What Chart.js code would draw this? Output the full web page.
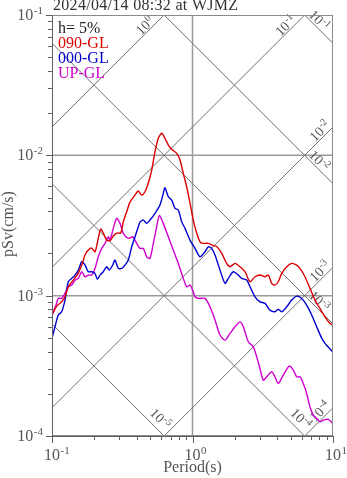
<!DOCTYPE html>
<html>
<head>
<meta charset="utf-8">
<script src="https://cdn.jsdelivr.net/npm/chart.js@4"></script>
<style>
  html, body { margin: 0; padding: 0; background: #fff; }
  canvas { display: block; }
</style>
</head>
<body>
<canvas id="c" width="347" height="478"></canvas>
<script>
// Pseudo-velocity response spectra (h = 5%), tripartite log-log grid.
const titleText = '2024/04/14 08:32 at WJMZ';
const dampingText = 'h= 5%';
const componentNames = ['090-GL', '000-GL', 'UP-GL'];
const componentColors = ['#dd0000', '#0000d0', '#d000d0'];

// Period (s) and pSv (cm/s) for each component
const periods090 = [0.1, 0.108, 0.1172, 0.1237, 0.1306, 0.1418, 0.1539, 0.1627, 0.1718, 0.1813, 0.1916, 0.2023, 0.2136, 0.2222, 0.2318, 0.2451, 0.2587, 0.2731, 0.2887, 0.3083, 0.3218, 0.3401, 0.3591, 0.3898, 0.4113, 0.4349, 0.459, 0.4846, 0.5125, 0.5409, 0.5708, 0.6034, 0.6371, 0.6726, 0.7112, 0.7718, 0.8147, 0.86, 0.9093, 0.9598, 1.013, 1.071, 1.131, 1.193, 1.296, 1.406, 1.487, 1.614, 1.752, 1.849, 2.006, 2.178, 2.363, 2.566, 2.785, 3.022, 3.281, 3.463, 3.661, 3.865, 4.079, 4.314, 4.682, 5.082, 5.514, 5.821, 6.318, 6.858, 7.443, 8.078, 8.77, 9.517, 10];
const psv090 = [7.28e-4, 8.43e-4, 9.04e-4, 9.82e-4, 1.157e-3, 1.291e-3, 1.449e-3, 1.652e-3, 1.947e-3, 2.113e-3, 2.183e-3, 2.055e-3, 2.573e-3, 2.983e-3, 2.793e-3, 2.489e-3, 2.461e-3, 2.659e-3, 2.793e-3, 2.793e-3, 3.363e-3, 3.963e-3, 4.645e-3, 5.212e-3, 5.566e-3, 5.212e-3, 5.502e-3, 6.345e-3, 7.854e-3, 1.061e-2, 1.322e-2, 1.435e-2, 1.322e-2, 1.184e-2, 1.103e-2, 1.033e-2, 9.26e-3, 7.44e-3, 5.97e-3, 4.571e-3, 3.457e-3, 2.793e-3, 2.422e-3, 2.359e-3, 2.359e-3, 2.275e-3, 2.239e-3, 2.001e-3, 1.698e-3, 1.606e-3, 1.698e-3, 1.606e-3, 1.481e-3, 1.256e-3, 1.364e-3, 1.402e-3, 1.364e-3, 1.402e-3, 1.224e-3, 1.19e-3, 1.256e-3, 1.441e-3, 1.606e-3, 1.698e-3, 1.652e-3, 1.564e-3, 1.364e-3, 1.127e-3, 9.3e-4, 8.11e-4, 7.07e-4, 6.34e-4, 6.17e-4];

const periods000 = [0.1, 0.105, 0.1109, 0.1172, 0.1237, 0.1306, 0.1381, 0.1458, 0.1539, 0.1627, 0.1718, 0.1813, 0.1916, 0.2023, 0.2101, 0.2196, 0.2318, 0.2451, 0.2557, 0.2704, 0.2808, 0.2963, 0.3133, 0.3308, 0.3492, 0.3693, 0.3898, 0.4113, 0.423, 0.4466, 0.4721, 0.4983, 0.5409, 0.5869, 0.6197, 0.6371, 0.6726, 0.7112, 0.7505, 0.7924, 0.8379, 0.8843, 0.9598, 1.042, 1.131, 1.227, 1.296, 1.369, 1.446, 1.569, 1.703, 1.798, 1.951, 2.118, 2.239, 2.431, 2.566, 2.785, 3.022, 3.281, 3.561, 3.865, 4.079, 4.314, 4.682, 5.082, 5.514, 5.985, 6.496, 7.054, 7.655, 8.307, 8.77, 10];
const psv000 = [4.98e-4, 6.0e-4, 7.28e-4, 7.68e-4, 9.3e-4, 1.256e-3, 1.328e-3, 1.402e-3, 1.522e-3, 1.744e-3, 1.652e-3, 1.481e-3, 1.481e-3, 1.441e-3, 1.313e-3, 1.402e-3, 1.481e-3, 1.606e-3, 1.522e-3, 1.652e-3, 1.793e-3, 1.564e-3, 1.564e-3, 1.652e-3, 1.793e-3, 2.231e-3, 2.628e-3, 3.097e-3, 3.346e-3, 3.457e-3, 3.275e-3, 3.457e-3, 3.859e-3, 4.42e-3, 5.36e-3, 5.875e-3, 5.07e-3, 4.8e-3, 4.19e-3, 4.074e-3, 3.363e-3, 3.018e-3, 2.489e-3, 2.173e-3, 1.893e-3, 2.055e-3, 2.231e-3, 2.173e-3, 1.947e-3, 1.522e-3, 1.224e-3, 1.328e-3, 1.481e-3, 1.402e-3, 1.328e-3, 1.291e-3, 1.157e-3, 9.82e-4, 9.04e-4, 8.81e-4, 7.89e-4, 7.68e-4, 7.98e-4, 7.68e-4, 8.33e-4, 9.3e-4, 9.93e-4, 9.56e-4, 8.57e-4, 7.28e-4, 6.0e-4, 4.98e-4, 4.57e-4, 3.96e-4];

const periodsUP = [0.1, 0.1068, 0.1109, 0.1172, 0.1237, 0.1306, 0.1381, 0.1458, 0.1539, 0.1627, 0.1718, 0.1813, 0.1916, 0.2023, 0.2136, 0.2259, 0.2384, 0.2516, 0.2587, 0.2731, 0.2887, 0.3048, 0.3218, 0.3492, 0.3754, 0.4006, 0.423, 0.4466, 0.4721, 0.4983, 0.526, 0.5561, 0.5804, 0.6197, 0.6726, 0.73, 0.7924, 0.86, 0.9093, 0.9598, 1.013, 1.042, 1.1, 1.227, 1.332, 1.446, 1.569, 1.703, 1.849, 2.006, 2.178, 2.299, 2.495, 2.708, 2.863, 3.022, 3.19, 3.373, 3.661, 3.865, 4.079, 4.428, 4.886, 5.218, 5.514, 5.821, 6.143, 6.496, 6.858, 7.239, 7.655, 8.078, 8.529, 9.256, 10];
const psvUP = [7.28e-4, 8.57e-4, 9.56e-4, 9.56e-4, 1.038e-3, 1.157e-3, 1.19e-3, 1.291e-3, 1.328e-3, 1.481e-3, 1.364e-3, 1.402e-3, 1.402e-3, 1.564e-3, 1.893e-3, 2.173e-3, 2.359e-3, 2.628e-3, 2.489e-3, 3.018e-3, 3.555e-3, 3.275e-3, 2.78e-3, 2.56e-3, 2.628e-3, 2.359e-3, 2.173e-3, 2.173e-3, 1.893e-3, 1.844e-3, 2.359e-3, 3.097e-3, 3.722e-3, 3.275e-3, 2.628e-3, 2.113e-3, 1.698e-3, 1.328e-3, 1.157e-3, 1.19e-3, 1.066e-3, 9.82e-4, 9.56e-4, 9.56e-4, 8.33e-4, 6.7e-4, 5.24e-4, 4.82e-4, 5.38e-4, 6.0e-4, 6.51e-4, 6.0e-4, 4.69e-4, 4.32e-4, 3.67e-4, 3.03e-4, 2.5e-4, 2.64e-4, 2.87e-4, 2.64e-4, 2.37e-4, 2.72e-4, 3.15e-4, 2.95e-4, 2.64e-4, 2.64e-4, 2.37e-4, 2.01e-4, 1.61e-4, 1.41e-4, 1.335e-4, 1.262e-4, 1.298e-4, 1.313e-4, 1.229e-4];

// Axis ranges and guide-line levels
const periodRange = [0.1, 10];
const psvRange = [1e-4, 1e-1];
const periodDecades = [-1, 0, 1];
const psvDecades = [-4, -3, -2, -1];
const periodGrid = [1];
const psvGrid = [1e-2, 1e-3];
const accelLevels = [1, 1e-1, 1e-2, 1e-3, 1e-4];   // lines rising to the right
const dispLevels = [1e-1, 1e-2, 1e-3, 1e-4, 1e-5];  // lines falling to the right

const SERIF = '"Liberation Serif", "Times New Roman", serif';

function toPoints(ps, vs) { return ps.map((p, i) => ({ x: p, y: vs[i] })); }

function powWidth(ctx, exp, big, small) {
  ctx.font = big + 'px ' + SERIF;
  const w1 = ctx.measureText('10').width;
  ctx.font = small + 'px ' + SERIF;
  const w2 = ctx.measureText(exp).width;
  return [w1, w2];
}
// draws "10" with a raised exponent; (x, y) = left end of baseline
function drawPow(ctx, exp, x, y, big, small, rise) {
  const [w1] = powWidth(ctx, exp, big, small);
  ctx.font = big + 'px ' + SERIF;
  ctx.fillText('10', x, y);
  ctx.font = small + 'px ' + SERIF;
  ctx.fillText(exp, x + w1 + 0.5, y - rise);
}
function expText(v) { return String(Math.round(Math.log10(v))); }

const tripartite = {
  id: 'tripartite',
  beforeDraw(chart) {
    const ctx = chart.ctx;
    ctx.save();
    ctx.fillStyle = '#fff';
    ctx.fillRect(0, 0, chart.width, chart.height);
    ctx.restore();
  },
  beforeDatasetsDraw(chart) {
    const { ctx, chartArea: a, scales: { x, y } } = chart;
    ctx.save();
    ctx.beginPath();
    ctx.rect(a.left, a.top, a.right - a.left, a.bottom - a.top);
    ctx.clip();

    // straight grid lines
    ctx.strokeStyle = '#9a9a9a';
    ctx.lineWidth = 1.5;
    periodGrid.forEach(p => {
      const px = x.getPixelForValue(p);
      ctx.beginPath(); ctx.moveTo(px, a.top); ctx.lineTo(px, a.bottom); ctx.stroke();
    });
    psvGrid.forEach(v => {
      const py = y.getPixelForValue(v);
      ctx.beginPath(); ctx.moveTo(a.left, py); ctx.lineTo(a.right, py); ctx.stroke();
    });

    // diagonal lines: constant pseudo-acceleration and constant displacement
    const T0 = periodRange[0], T1 = periodRange[1];
    const w = T => 2 * Math.PI / T;
    const lines = [];
    accelLevels.forEach(sa => lines.push({ kind: 'acc', level: sa,
      v0: sa / w(T0), v1: sa / w(T1) }));
    dispLevels.forEach(sd => lines.push({ kind: 'disp', level: sd,
      v0: sd * w(T0), v1: sd * w(T1) }));

    ctx.strokeStyle = '#707070';
    ctx.lineWidth = 1;
    lines.forEach(L => {
      L.p0 = { x: x.getPixelForValue(T0), y: y.getPixelForValue(L.v0) };
      L.p1 = { x: x.getPixelForValue(T1), y: y.getPixelForValue(L.v1) };
      ctx.beginPath(); ctx.moveTo(L.p0.x, L.p0.y); ctx.lineTo(L.p1.x, L.p1.y); ctx.stroke();
    });
    ctx.restore();

    // labels of the diagonal lines
    ctx.save();
    ctx.fillStyle = '#555';
    ctx.textBaseline = 'alphabetic';
    lines.forEach(L => {
      const dx = L.p1.x - L.p0.x, dy = L.p1.y - L.p0.y;
      const len = Math.hypot(dx, dy);
      const ux = dx / len, uy = dy / len; // unit vector toward long periods
      let ex, ey, along, perp;
      if (L.kind === 'acc') {
        if (L.p1.y > a.bottom) return;
        const xt = L.p0.x + (a.top - L.p0.y) * dx / dy;
        if (xt <= a.right) { ex = xt; ey = a.top; along = 21; perp = 6.5; }
        else { ex = a.right; ey = L.p0.y + (a.right - L.p0.x) * dy / dx; along = 12; perp = 7; }
      } else {
        if (L.p0.y > a.bottom) return;
        const xb = L.p0.x + (a.bottom - L.p0.y) * dx / dy;
        if (xb <= a.right) { ex = xb; ey = a.bottom; along = 15; perp = 10; }
        else { ex = a.right; ey = L.p0.y + (a.right - L.p0.x) * dy / dx; along = 26; perp = 7; }
      }
      if (ey < a.top - 1 || ey > a.bottom + 1) return;
      // perpendicular pointing upward
      let nx = uy, ny = -ux;
      if (ny > 0) { nx = -nx; ny = -ny; }
      const cx = ex - ux * along + nx * perp;
      const cy = ey - uy * along + ny * perp;
      const exp = expText(L.level);
      const [w1, w2] = powWidth(ctx, exp, 14, 10);
      const total = w1 + w2 + 0.5;
      ctx.save();
      ctx.translate(cx, cy);
      ctx.rotate(Math.atan2(uy, ux));
      drawPow(ctx, exp, -total / 2, 5, 14, 10, 5);
      ctx.restore();
    });
    ctx.restore();
  },
  afterDraw(chart) {
    const { ctx, chartArea: a, scales: { x, y } } = chart;
    ctx.save();

    // frame
    ctx.strokeStyle = '#8a8a8a';
    ctx.lineWidth = 1;
    ctx.strokeRect(a.left + 0.5, a.top + 0.5, a.right - a.left - 1, a.bottom - a.top - 1);
    ctx.strokeStyle = '#606060';
    ctx.beginPath();
    ctx.moveTo(a.left + 0.5, a.top); ctx.lineTo(a.left + 0.5, a.bottom + 0.5);
    ctx.lineTo(a.right, a.bottom + 0.5);
    ctx.stroke();

    // ticks
    ctx.strokeStyle = '#606060';
    ctx.beginPath();
    for (let d = periodDecades[0]; d <= periodDecades[periodDecades.length - 1]; d++) {
      for (let k = 1; k <= 9; k++) {
        const v = k * Math.pow(10, d);
        if (v < periodRange[0] * 0.999 || v > periodRange[1] * 1.001) continue;
        const px = Math.round(x.getPixelForValue(v)) + 0.5;
        ctx.moveTo(px, a.bottom); ctx.lineTo(px, a.bottom + (k === 1 ? 7 : 4));
      }
    }
    for (let d = psvDecades[0]; d <= psvDecades[psvDecades.length - 1]; d++) {
      for (let k = 1; k <= 9; k++) {
        const v = k * Math.pow(10, d);
        if (v < psvRange[0] * 0.999 || v > psvRange[1] * 1.001) continue;
        const py = Math.round(y.getPixelForValue(v)) + 0.5;
        ctx.moveTo(a.left, py); ctx.lineTo(a.left - (k === 1 ? 6 : 4), py);
      }
    }
    ctx.stroke();

    // tick labels
    ctx.fillStyle = '#555';
    ctx.textBaseline = 'alphabetic';
    periodDecades.forEach(d => {
      const px = x.getPixelForValue(Math.pow(10, d));
      const [w1] = powWidth(ctx, String(d), 16, 11);
      drawPow(ctx, String(d), px - w1 / 2, a.bottom + 24, 16, 11, 6);
    });
    psvDecades.forEach(d => {
      const py = y.getPixelForValue(Math.pow(10, d));
      const [w1, w2] = powWidth(ctx, String(d), 16, 11);
      drawPow(ctx, String(d), a.left - 9 - (w1 + w2 + 0.5), py + 5, 16, 11, 6);
    });

    // axis titles
    ctx.font = '16px ' + SERIF;
    ctx.textAlign = 'center';
    ctx.fillText('Period(s)', (a.left + a.right) / 2, 472);
    ctx.save();
    ctx.translate(13, 224);
    ctx.rotate(-Math.PI / 2);
    ctx.fillText('pSv(cm/s)', 0, 0);
    ctx.restore();

    // title
    ctx.textAlign = 'left';
    ctx.fillStyle = '#333';
    ctx.font = '16px ' + SERIF;
    ctx.letterSpacing = '0.3px';
    ctx.fillText(titleText, 53, 10);
    ctx.letterSpacing = '0px';

    // legend text
    ctx.fillStyle = '#222';
    ctx.fillText(dampingText, 58, 33);
    componentNames.forEach((n, i) => {
      ctx.fillStyle = componentColors[i];
      ctx.fillText(n, 58, 48 + i * 15);
    });
    ctx.restore();
  }
};

new Chart(document.getElementById('c'), {
  type: 'line',
  data: {
    datasets: [
      { label: componentNames[0], data: toPoints(periods090, psv090) },
      { label: componentNames[1], data: toPoints(periods000, psv000) },
      { label: componentNames[2], data: toPoints(periodsUP, psvUP) }
    ].map((d, i) => Object.assign(d, {
      borderColor: componentColors[i],
      borderWidth: 1.4,
      pointRadius: 0,
      fill: false,
      tension: 0.25
    }))
  },
  options: {
    responsive: false,
    devicePixelRatio: 1,
    animation: false,
    layout: { padding: { left: 52, top: 15, right: 14, bottom: 42 } },
    plugins: { legend: { display: false }, tooltip: { enabled: false }, title: { display: false } },
    scales: {
      x: { type: 'logarithmic', min: periodRange[0], max: periodRange[1], display: false },
      y: { type: 'logarithmic', min: psvRange[0], max: psvRange[1], display: false }
    }
  },
  plugins: [tripartite]
});
</script>
</body>
</html>
